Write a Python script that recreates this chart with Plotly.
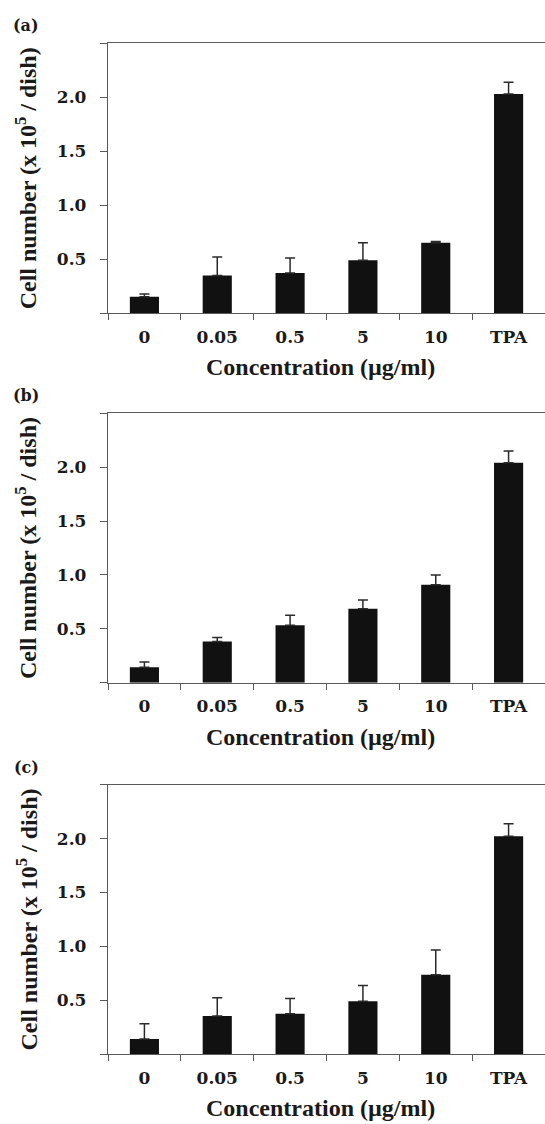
import plotly.graph_objects as go

W, H = 545, 1124

categories = ["0", "0.05", "0.5", "5", "10", "TPA"]
values_a = [0.154, 0.349, 0.373, 0.491, 0.654, 2.030]
errors_a = [0.025, 0.173, 0.139, 0.163, 0.010, 0.110]
values_b = [0.143, 0.382, 0.534, 0.686, 0.910, 2.040]
errors_b = [0.050, 0.037, 0.093, 0.081, 0.090, 0.109]
values_c = [0.142, 0.354, 0.376, 0.493, 0.737, 2.022]
errors_c = [0.141, 0.170, 0.142, 0.145, 0.231, 0.117]
panel_labels = ["(a)", "(b)", "(c)"]
ytick_vals = [0.5, 1.0, 1.5, 2.0]
ytick_text = ["0.5", "1.0", "1.5", "2.0"]
yminor_vals = [0, 2.5]
x_title = "Concentration (\u00b5g/ml)"
y_title = "Cell number (x 10<sup>5</sup> / dish)"

panels = [(values_a, errors_a), (values_b, errors_b), (values_c, errors_c)]

# pixel layout of each panel (top, bottom)
tops = [43.3, 413.3, 784.7]
bottoms = [313.3, 682.7, 1054.3]
left_px = 108

TICK_FONT = dict(family="DejaVu Serif", size=17, color="#1a1a1a", weight="bold")
TITLE_FONT = dict(family="Liberation Serif, Times New Roman, serif", size=24,
                  color="#1a1a1a", weight="bold")
LABEL_FONT = dict(family="DejaVu Serif", size=16, color="#1a1a1a", weight="bold")
AXIS_COLOR = "#5a5a5a"

fig = go.Figure()
annotations = []
for i, (vals, errs) in enumerate(panels):
    n = "" if i == 0 else str(i + 1)
    fig.add_trace(go.Bar(
        x=categories, y=vals, width=0.4,
        marker=dict(color="#111111", line=dict(width=0)),
        error_y=dict(type="data", symmetric=False, array=errs,
                     arrayminus=[0] * len(errs), color="#2a2a2a",
                     thickness=1.5, width=5),
        xaxis="x" + n, yaxis="y" + n, showlegend=False,
    ))
    y0 = 1 - bottoms[i] / H
    y1 = 1 - tops[i] / H
    fig.update_layout(**{
        "xaxis" + n: dict(
            domain=[left_px / W, 1.0], anchor="y" + n, type="category",
            range=[-0.5, 5.5], showline=True, linecolor=AXIS_COLOR, linewidth=1.3,
            mirror=True, ticks="outside", tickson="boundaries", ticklen=6,
            tickwidth=1.2, tickcolor=AXIS_COLOR, tickfont=TICK_FONT,
            ticklabelstandoff=8,
            showgrid=False, zeroline=False, fixedrange=True,
        ),
        "yaxis" + n: dict(
            domain=[y0, y1], anchor="x" + n, range=[0, 2.5],
            tickvals=ytick_vals, ticktext=ytick_text,
            showline=True, linecolor=AXIS_COLOR, linewidth=1.3,
            ticks="outside", ticklen=7, tickwidth=1.2, tickcolor=AXIS_COLOR,
            tickfont=TICK_FONT, ticklabelstandoff=10,
            minor=dict(tickvals=yminor_vals, ticks="outside", ticklen=7,
                       tickwidth=1.2, tickcolor=AXIS_COLOR, showgrid=False),
            showgrid=False, zeroline=False, fixedrange=True,
        ),
    })
    mid = (tops[i] + bottoms[i]) / 2
    annotations.append(dict(
        text=y_title, textangle=-90, x=26 / W, y=1 - mid / H,
        xref="paper", yref="paper", xanchor="center", yanchor="middle",
        showarrow=False, font=TITLE_FONT,
    ))
    annotations.append(dict(
        text=x_title, x=320 / W, y=1 - (bottoms[i] + 54) / H,
        xref="paper", yref="paper", xanchor="center", yanchor="middle",
        showarrow=False, font=TITLE_FONT,
    ))
    annotations.append(dict(
        text=panel_labels[i], x=26 / W, y=1 - (tops[i] - 17.5) / H,
        xref="paper", yref="paper", xanchor="center", yanchor="middle",
        showarrow=False, font=LABEL_FONT,
    ))

fig.update_layout(
    width=W, height=H, margin=dict(l=0, r=0, t=0, b=0),
    paper_bgcolor="white", plot_bgcolor="white",
    annotations=annotations, bargap=0.6,
)

fig.write_html("out.html")
